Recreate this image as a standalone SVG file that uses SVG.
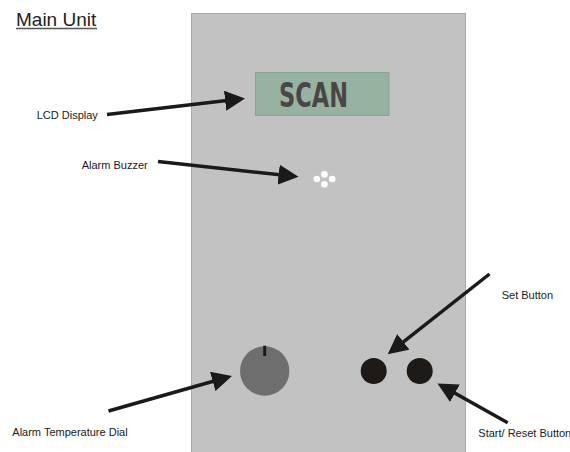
<svg xmlns="http://www.w3.org/2000/svg" width="570" height="452" viewBox="0 0 570 452">
  <style>
    .lbl { font-family: "Liberation Sans", Arial, sans-serif; font-size: 11px; fill: #1a1a1a; }
    .title { font-family: "Liberation Sans", Arial, sans-serif; font-size: 19px; fill: #222; }
    .lead { stroke: #1a1a1a; stroke-width: 3.5; fill: none; marker-end: url(#head); }
    .btn { fill: #1e1a18; }
    .dot { fill: #ffffff; }
  </style>
  <defs>
    <marker id="head" markerUnits="userSpaceOnUse" markerWidth="20" markerHeight="20" refX="6" refY="10" orient="auto" viewBox="0 0 20 20">
      <path d="M0,0 L20,10 L0,20 z" fill="#1a1a1a"/>
    </marker>
  </defs>

  <rect width="570" height="452" fill="#ffffff"/>

  <g id="title">
    <text class="title" x="16" y="26">Main Unit</text>
    <line x1="16" y1="28.5" x2="97" y2="28.5" stroke="#555" stroke-width="1.3"/>
  </g>

  <g id="main-unit">
    <rect x="191.5" y="13.5" width="274" height="440" fill="#c2c2c2" stroke="#aaaaaa" stroke-width="1"/>
  </g>

  <g id="lcd-display">
    <rect x="255.5" y="72.5" width="133.5" height="43" fill="#97b2a0" stroke="#8aa292" stroke-width="1"/>
    <text x="279" y="106.5" textLength="69" lengthAdjust="spacingAndGlyphs" font-family="'DejaVu Sans', sans-serif" font-weight="bold" font-size="33" fill="#4a4647">SCAN</text>
  </g>

  <g id="alarm-buzzer">
    <circle class="dot" cx="316.8" cy="179" r="3.3"/>
    <circle class="dot" cx="332.2" cy="179" r="3.3"/>
    <circle class="dot" cx="324.4" cy="174.4" r="3.3"/>
    <circle class="dot" cx="324.4" cy="184.3" r="3.3"/>
  </g>

  <g id="temperature-dial">
    <circle cx="264.7" cy="371" r="24.7" fill="#6e6e6e"/>
    <line x1="264.7" y1="345.7" x2="264.7" y2="356" stroke="#1a1a1a" stroke-width="3"/>
  </g>

  <g id="set-button">
    <circle class="btn" cx="373.7" cy="371" r="13"/>
  </g>

  <g id="reset-button">
    <circle class="btn" cx="419.7" cy="371" r="13"/>
  </g>

  <g id="labels">
    <text class="lbl" x="36.7" y="119.3">LCD Display</text>
    <text class="lbl" x="81.7" y="169">Alarm Buzzer</text>
    <text class="lbl" x="12.3" y="435.7">Alarm Temperature Dial</text>
    <text class="lbl" x="501.7" y="299">Set Button</text>
    <text class="lbl" x="478.3" y="437.3">Start/ Reset Button</text>
  </g>

  <g id="connectors">
    <line class="lead" x1="107" y1="114.5" x2="231.1" y2="100.1"/>
    <line class="lead" x1="158" y1="161.5" x2="284.6" y2="175.3"/>
    <line class="lead" x1="108.5" y1="411" x2="218.5" y2="379.8"/>
    <line class="lead" x1="489.5" y1="274" x2="398.7" y2="345.6"/>
    <line class="lead" x1="507.7" y1="422.7" x2="449.7" y2="390.3"/>
  </g>
</svg>
